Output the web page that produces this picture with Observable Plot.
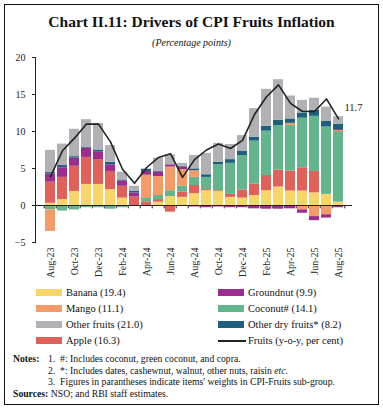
<!DOCTYPE html>
<html>
<head>
<meta charset="utf-8">
<script src="https://cdn.jsdelivr.net/npm/d3@7"></script>
<script src="https://cdn.jsdelivr.net/npm/@observablehq/plot@0.6"></script>
<style>
  html, body { margin: 0; padding: 0; background: #fff; }
  body { width: 383px; height: 409px; position: relative; overflow: hidden; font-family: "Liberation Serif", "DejaVu Serif", serif; color: #111; }
  #frame { position: absolute; left: 4px; top: 4px; width: 375px; height: 401px; border: 1.5px solid #111; box-sizing: border-box; }
  #title { position: absolute; left: 0; width: 383px; top: 13px; text-align: center; font-weight: bold; font-size: 15.5px; }
  #subtitle { position: absolute; left: 0; width: 383px; top: 37px; text-align: center; font-style: italic; font-size: 10px; }
  #chart { position: absolute; left: 0; top: 50px; }
  .lg { position: absolute; font-size: 10.5px; line-height: 12px; white-space: nowrap; }
  .sw { position: absolute; width: 26px; height: 7px; }
  .notes { position: absolute; left: 13px; font-size: 9.7px; line-height: 11px; white-space: nowrap; }
</style>
</head>
<body>
<div id="frame"></div>
<div id="title">Chart II.11: Drivers of CPI Fruits Inflation</div>
<div id="subtitle">(Percentage points)</div>
<div id="chart"></div>
<div id="legend"></div>
<div class="notes" style="top:353px"><b>Notes:</b><span style="position:absolute;left:35px">1.&nbsp;&nbsp;#: Includes coconut, green coconut, and copra.</span></div>
<div class="notes" style="top:365px"><span style="position:absolute;left:35px">2.&nbsp;&nbsp;*: Includes dates, cashewnut, walnut, other nuts, raisin <i>etc.</i></span>&nbsp;</div>
<div class="notes" style="top:376px"><span style="position:absolute;left:35px">3.&nbsp;&nbsp;Figures in parantheses indicate items' weights in CPI-Fruits sub-group.</span>&nbsp;</div>
<div class="notes" style="top:388px"><b>Sources:</b> NSO; and RBI staff estimates.</div>
<script>
const months = ["Aug-23","Sep-23","Oct-23","Nov-23","Dec-23","Jan-24","Feb-24","Mar-24","Apr-24","May-24","Jun-24","Jul-24","Aug-24","Sep-24","Oct-24","Nov-24","Dec-24","Jan-25","Feb-25","Mar-25","Apr-25","May-25","Jun-25","Jul-25","Aug-25"];
const banana    = [0.3, 0.8, 1.9, 2.85, 2.85, 2.15, 1.0, 0, 0, 0.45, 1.2, 1.1, 1.6, 2.0, 1.9, 1.1, 1.0, 1.35, 2.0, 2.5, 1.95, 1.95, 1.7, 1.5, 0.45];
const apple     = [2.85, 3.0, 3.4, 3.65, 3.35, 2.45, 1.6, 1.15, 0.5, 0.35, -0.9, 0.7, 1.1, 0.15, 0.1, 0.4, 1.1, 1.55, 2.05, 2.3, 2.7, 3.15, 2.9, 0, 0];
const coconut   = [-0.6, -0.75, -0.6, -0.3, -0.3, -0.5, -0.3, 0, 0.45, 0.55, 0.8, 0.8, 1.1, 1.65, 3.5, 4.2, 4.65, 5.8, 6.0, 6.0, 6.15, 6.7, 7.45, 9.1, 9.55];
const mango     = [-2.9, 0, 0, 0, 0, 0, 0, 0, 3.15, 2.55, 3.2, 2.25, 0.9, 0, 0, 0, 0, 0, 0, 0, 0.3, -0.6, -1.5, -1.25, 0.15];
const groundnut = [1.1, 1.3, 1.1, 1.25, 1.0, 0.9, 0.7, 0.55, 0.5, 0.6, 0.3, 0.35, -0.2, -0.3, -0.2, -0.3, -0.3, -0.45, -0.5, -0.5, -0.45, -0.45, -0.55, -0.45, -0.3];
const otherDry  = [0.2, 0.3, 0.2, 0.15, 0.3, 0.35, 0.15, 0.2, 0.3, 0.1, 0, 0.1, 0.25, 0.35, 0.35, 0.5, 0.55, 0.5, 0.65, 0.7, 0.6, 0.7, 0.8, 0.75, 0.8];
const otherFruits = [3.0, 2.9, 3.7, 3.7, 3.6, 2.25, 1.05, 0.7, 0, 1.8, 1.35, 0.4, 1.8, 2.9, 2.55, 2.05, 2.15, 3.9, 5.0, 5.5, 3.1, 1.7, 1.65, 1.95, 1.05];
const fruitsYoY = [3.9, 7.4, 9.1, 11.0, 11.0, 8.6, 4.9, 3.0, 5.1, 6.5, 7.0, 3.8, 6.2, 7.5, 8.3, 7.7, 8.8, 12.3, 14.7, 16.3, 13.8, 12.7, 12.7, 14.4, 11.7];
const yTicks = [-5, 0, 5, 10, 15, 20];

const seriesNames = ["Banana (19.4)", "Apple (16.3)", "Coconut# (14.1)", "Mango (11.1)", "Groundnut (9.9)", "Other dry fruits* (8.2)", "Other fruits (21.0)"];
const seriesValues = [banana, apple, coconut, mango, groundnut, otherDry, otherFruits];
const seriesColors = ["#F9D46A", "#E0605A", "#63B58C", "#F59B68", "#9A2D8D", "#1F5E7D", "#B1B1B5"];

const table = [];
seriesNames.forEach((s, k) => months.forEach((m, i) => table.push({month: m, series: s, value: seriesValues[k][i]})));
const lineData = months.map((m, i) => ({month: m, value: fruitsYoY[i]}));

const W = 383, H = 235, mL = 35, mR = 31;
const step = (W - mL - mR) / (months.length + 0.2);

const chart = Plot.plot({
  width: W, height: H,
  marginLeft: mL, marginRight: mR, marginTop: 7, marginBottom: 43,
  style: {fontFamily: "'Liberation Serif', serif", fontSize: "10px", color: "#222", background: "transparent"},
  x: {type: "band", domain: months, paddingInner: 0.2, paddingOuter: 0.2, label: null},
  y: {domain: [-5, 20], label: null},
  color: {domain: seriesNames, range: seriesColors},
  marks: [
    Plot.barY(table, {x: "month", y: "value", fill: "series", order: seriesNames}),
    Plot.ruleY([0], {stroke: "#222", strokeWidth: 1}),
    Plot.ruleX(months, {x: d => d, y1: 0, y2: -0.45, dx: -step / 2, stroke: "#222"}),
    Plot.ruleX(months.slice(-1), {x: d => d, y1: 0, y2: -0.45, dx: step / 2, stroke: "#222"}),
    Plot.frame({anchor: "left", stroke: "#222"}),
    Plot.axisY({ticks: yTicks, tickSize: 3, tickPadding: 7, label: null}),
    Plot.axisX({ticks: months.filter((d, i) => i % 2 === 0), tickSize: 0, tickRotate: -90, tickPadding: 5, label: null}),
    Plot.line(lineData, {x: "month", y: "value", stroke: "#222", strokeWidth: 1.6}),
    Plot.text(lineData.slice(-1), {x: "month", y: "value", text: d => d.value.toFixed(1), dx: 6, dy: -11, textAnchor: "start", fontSize: 10.5, fill: "#222"})
  ]
});
document.getElementById("chart").appendChild(chart);

// legend
const legend = document.getElementById("legend");
const legendItems = [
  {name: "Banana (19.4)", col: 0, row: 0}, {name: "Groundnut (9.9)", col: 1, row: 0},
  {name: "Mango (11.1)", col: 0, row: 1}, {name: "Coconut# (14.1)", col: 1, row: 1},
  {name: "Other fruits (21.0)", col: 0, row: 2}, {name: "Other dry fruits* (8.2)", col: 1, row: 2},
  {name: "Apple (16.3)", col: 0, row: 3}, {name: "Fruits (y-o-y, per cent)", col: 1, row: 3, line: true}
];
legendItems.forEach(it => {
  const top = 289 + it.row * 16;
  const sx = it.col === 0 ? 36 : 218;
  const sw = document.createElement("div");
  sw.className = "sw";
  if (it.line) {
    sw.style.cssText = `left:${sx}px;top:${top + 3}px;height:2px;background:#222;width:28px`;
  } else {
    sw.style.cssText = `left:${sx}px;top:${top}px;background:${seriesColors[seriesNames.indexOf(it.name)]}`;
  }
  legend.appendChild(sw);
  const t = document.createElement("div");
  t.className = "lg";
  t.style.left = (sx + 30) + "px";
  t.style.top = (top - 2) + "px";
  t.textContent = it.name;
  legend.appendChild(t);
});
</script>
</body>
</html>
